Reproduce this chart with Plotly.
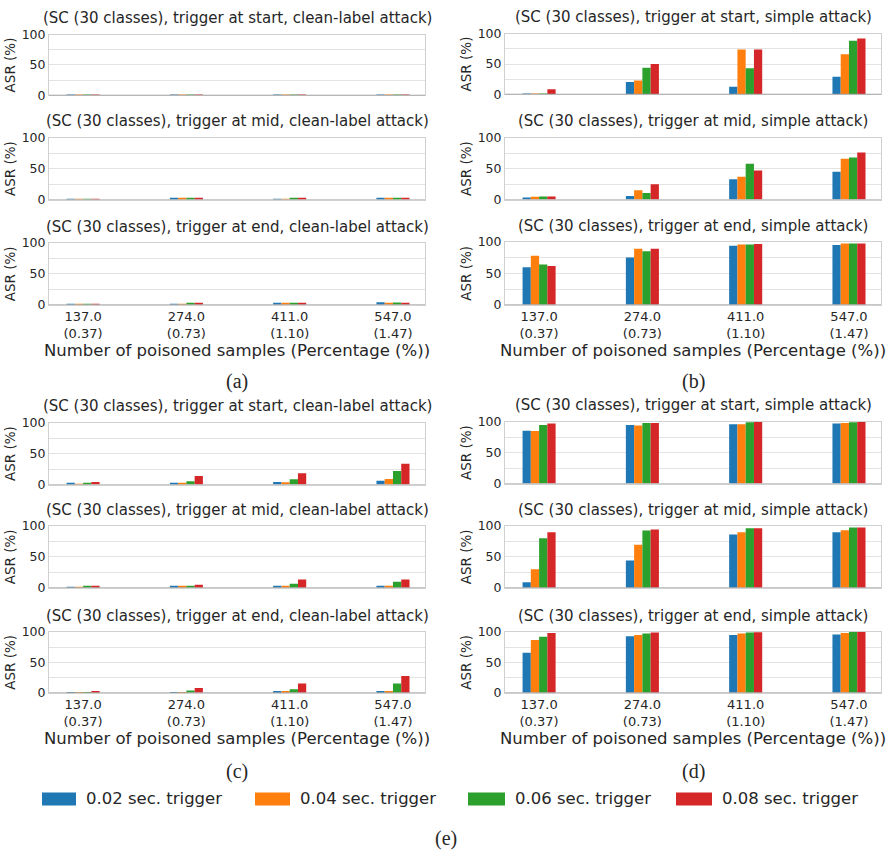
import plotly.graph_objects as go

# Poisoned-sample counts and the share of the training set they represent
sample_counts = ["137.0", "274.0", "411.0", "547.0"]
sample_percent = ["(0.37)", "(0.73)", "(1.10)", "(1.47)"]

trigger_names = ["0.02 sec. trigger", "0.04 sec. trigger", "0.06 sec. trigger", "0.08 sec. trigger"]
trigger_colors = ["#1f77b4", "#ff7f0e", "#2ca02c", "#d62728"]

y_ticks = [0, 25, 50, 75, 100]
y_tick_text = ["0", "", "50", "", "100"]

# ASR (%) per trigger length (rows) and number of poisoned samples (columns)
a_start = [[1.0, 1.0, 0.8, 1.2], [0.8, 0.9, 0.8, 1.0], [0.8, 0.8, 0.9, 1.0], [1.0, 1.2, 1.2, 1.1]]
a_mid = [[1.0, 1.5, 1.0, 2.0], [1.0, 1.5, 1.2, 2.0], [1.2, 1.5, 1.5, 2.2], [1.2, 1.8, 1.8, 2.5]]
a_end = [[0.3, 0.5, 2.5, 4.0], [0.4, 0.8, 2.0, 2.5], [0.5, 1.5, 2.5, 3.5], [0.8, 2.0, 2.5, 3.2]]

b_start = [[0.5, 20.5, 12.5, 29.0], [1.5, 23.0, 74.0, 66.0], [1.0, 44.0, 43.0, 88.0], [8.5, 50.0, 74.0, 92.0]]
b_mid = [[3.5, 6.0, 33.0, 45.0], [4.5, 15.0, 37.0, 66.0], [5.0, 10.5, 58.0, 68.0], [5.0, 25.0, 47.0, 76.0]]
b_end = [[59.5, 75.0, 94.0, 95.0], [78.0, 89.0, 96.0, 97.5], [64.0, 85.0, 96.0, 97.5], [61.5, 89.0, 96.5, 97.5]]

c_start = [[1.6, 2.6, 4.2, 6.3], [1.0, 2.6, 3.7, 9.0], [1.6, 5.3, 8.4, 22.0], [4.2, 14.0, 18.4, 33.7]]
c_mid = [[1.0, 2.7, 2.0, 2.7], [1.0, 2.7, 2.7, 3.2], [1.6, 3.2, 6.4, 9.5], [2.7, 4.8, 13.3, 13.5]]
c_end = [[0.2, 0.3, 1.6, 3.2], [0.5, 0.5, 2.0, 3.2], [0.5, 3.7, 5.9, 15.5], [2.0, 8.0, 15.5, 27.8]]

d_start = [[85.4, 94.8, 95.8, 96.9], [85.0, 93.7, 95.8, 97.9], [94.8, 97.9, 99.0, 99.0], [96.9, 97.9, 100.0, 100.0]]
d_mid = [[9.0, 44.0, 86.0, 89.5], [30.0, 69.5, 89.5, 93.0], [80.0, 92.6, 96.0, 97.4], [89.5, 94.0, 96.0, 97.4]]
d_end = [[66.0, 93.0, 95.0, 96.0], [86.6, 95.0, 97.3, 98.4], [92.0, 97.3, 99.0, 100.0], [98.4, 99.0, 99.5, 100.0]]

W, H = 892, 862
FONT = "DejaVu Sans"
TXT = "#262626"

# panel: (label, column pixel span, row pixel spans (top, bottom), attack type, data per position, label row)
panels = [
    ("(a)", (49, 425), [(27, 89), (132, 195), (239, 302)], "clean-label attack", [a_start, a_mid, a_end], 380),
    ("(b)", (505, 881), [(26, 88), (132, 195), (238, 302)], "simple attack", [b_start, b_mid, b_end], 380),
    ("(c)", (49, 425), [(422, 485), (527, 590), (635, 697)], "clean-label attack", [c_start, c_mid, c_end], 777),
    ("(d)", (505, 881), [(421, 484), (527, 590), (635, 697)], "simple attack", [d_start, d_mid, d_end], 777),
]
positions = ["start", "mid", "end"]

fig = go.Figure()
annotations = []
shapes = []
layout_axes = {}
x_pos = list(range(len(sample_counts)))
tick_labels = [f"{n}<br>{p}" for n, p in zip(sample_counts, sample_percent)]

k = 0
for label, (x0, x1), rows, attack, datasets, label_y in panels:
    for r, (pos, data, (top, bot)) in enumerate(zip(positions, datasets, rows)):
        k += 1
        xa = "x" if k == 1 else f"x{k}"
        ya = "y" if k == 1 else f"y{k}"
        for t, (name, color) in enumerate(zip(trigger_names, trigger_colors)):
            fig.add_trace(go.Bar(
                x=x_pos, y=data[t], name=name, marker=dict(color=color, line=dict(width=0)),
                xaxis=xa, yaxis=ya, showlegend=False, offsetgroup=str(t),
            ))
        bottom_row = r == len(positions) - 1
        layout_axes["xaxis" if k == 1 else f"xaxis{k}"] = dict(
            domain=[x0 / W, x1 / W], anchor=ya, range=[-0.33, 3.31],
            tickvals=x_pos, ticktext=tick_labels, showticklabels=bottom_row,
            tickfont=dict(family=FONT, size=13, color=TXT), ticks="",
            showgrid=False, zeroline=False,
            showline=True, linecolor="#d0d0d0", linewidth=1, mirror=True,
            title=dict(text="Number of poisoned samples (Percentage (%))" if bottom_row else "",
                       font=dict(family=FONT, size=16.5, color=TXT), standoff=0),
        )
        layout_axes["yaxis" if k == 1 else f"yaxis{k}"] = dict(
            domain=[1 - bot / H, 1 - top / H], anchor=xa, range=[0, 100],
            tickvals=y_ticks, ticktext=y_tick_text, ticks="",
            tickfont=dict(family=FONT, size=12.5, color=TXT),
            showgrid=True, gridcolor="#e3e3e3", gridwidth=1, zeroline=False,
            showline=True, linecolor="#d0d0d0", linewidth=1, mirror=True,
            title=dict(text="ASR (%)", font=dict(family=FONT, size=13.5, color=TXT), standoff=2),
        )
        # darker baseline along y = 0
        shapes.append(dict(type="line", xref=f"{xa} domain", yref=ya, x0=0, x1=1, y0=0, y1=0,
                           line=dict(color="#9a9a9a", width=1.2), layer="above"))
        annotations.append(dict(
            text=f"(SC (30 classes), trigger at {pos}, {attack})",
            xref="paper", yref="paper", x=(x0 + x1) / 2 / W, y=1 - (top - 16.5) / H,
            xanchor="center", yanchor="middle", showarrow=False,
            font=dict(family=FONT, size=15, color=TXT),
        ))
    annotations.append(dict(
        text=label, xref="paper", yref="paper", x=(x0 + x1) / 2 / W, y=1 - label_y / H,
        xanchor="center", yanchor="middle", showarrow=False,
        font=dict(family="Liberation Serif", size=20, color=TXT),
    ))

# legend row
legend_y = 805
legend_patches = [(42, 76), (255, 290), (468, 505), (676, 712)]
for (px0, px1), name, color in zip(legend_patches, trigger_names, trigger_colors):
    shapes.append(dict(type="rect", xref="paper", yref="paper",
                       x0=px0 / W, x1=px1 / W, y0=1 - (legend_y + 6.5) / H, y1=1 - (legend_y - 6.5) / H,
                       fillcolor=color, line=dict(width=0)))
    annotations.append(dict(text=name, xref="paper", yref="paper", x=(px1 + 8) / W, y=1 - legend_y / H,
                            xanchor="left", yanchor="middle", showarrow=False,
                            font=dict(family=FONT, size=16.5, color=TXT)))
annotations.append(dict(text="(e)", xref="paper", yref="paper", x=0.5, y=1 - 845 / H,
                        xanchor="center", yanchor="middle", showarrow=False,
                        font=dict(family="Liberation Serif", size=20, color=TXT)))

fig.update_layout(
    width=W, height=H, margin=dict(l=0, r=0, t=0, b=0),
    paper_bgcolor="white", plot_bgcolor="white",
    barmode="group", bargap=0.68, bargroupgap=0,
    annotations=annotations, shapes=shapes, showlegend=False,
    **layout_axes,
)

fig.write_html("out.html")
